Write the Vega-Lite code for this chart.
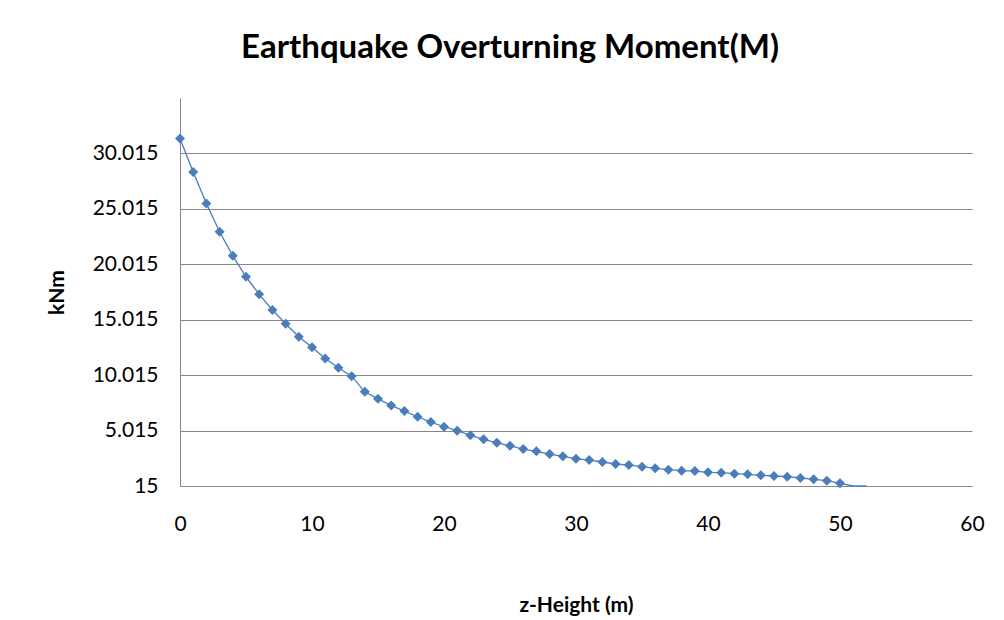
{
  "$schema": "https://vega.github.io/schema/vega-lite/v6.json",
  "width": 792,
  "height": 388,
  "autosize": {"type": "none"},
  "padding": {"left": 180, "top": 98, "right": 32, "bottom": 134},
  "background": "white",
  "config": {
    "font": "Lato",
    "view": {"stroke": null},
    "axis": {"domainColor": "#868686", "gridColor": "#868686", "ticks": false, "labelColor": "#000000", "titleColor": "#000000", "labelFlush": false}
  },
  "title": {
    "text": "Earthquake Overturning Moment(M)",
    "fontSize": 33,
    "fontWeight": "bold",
    "font": "Lato",
    "color": "#000000",
    "anchor": "middle",
    "frame": "group",
    "dx": -66,
    "offset": 33
  },
  "data": {
    "values": [
      {"z": 0, "M": 31360}, {"z": 1, "M": 28350}, {"z": 2, "M": 25500}, {"z": 3, "M": 22945},
      {"z": 4, "M": 20780}, {"z": 5, "M": 18890}, {"z": 6, "M": 17305}, {"z": 7, "M": 15890},
      {"z": 8, "M": 14655}, {"z": 9, "M": 13485}, {"z": 10, "M": 12530}, {"z": 11, "M": 11520},
      {"z": 12, "M": 10675}, {"z": 13, "M": 9925}, {"z": 14, "M": 8510}, {"z": 15, "M": 7880},
      {"z": 16, "M": 7285}, {"z": 17, "M": 6775}, {"z": 18, "M": 6260}, {"z": 19, "M": 5780},
      {"z": 20, "M": 5360}, {"z": 21, "M": 5000}, {"z": 22, "M": 4585}, {"z": 23, "M": 4225},
      {"z": 24, "M": 3915}, {"z": 25, "M": 3645}, {"z": 26, "M": 3350}, {"z": 27, "M": 3140},
      {"z": 28, "M": 2900}, {"z": 29, "M": 2690}, {"z": 30, "M": 2475}, {"z": 31, "M": 2355},
      {"z": 32, "M": 2180}, {"z": 33, "M": 2000}, {"z": 34, "M": 1905}, {"z": 35, "M": 1755},
      {"z": 36, "M": 1610}, {"z": 37, "M": 1485}, {"z": 38, "M": 1395}, {"z": 39, "M": 1365},
      {"z": 40, "M": 1250}, {"z": 41, "M": 1215}, {"z": 42, "M": 1125}, {"z": 43, "M": 1070},
      {"z": 44, "M": 980}, {"z": 45, "M": 915}, {"z": 46, "M": 855}, {"z": 47, "M": 735},
      {"z": 48, "M": 620}, {"z": 49, "M": 495}, {"z": 50, "M": 260}, {"z": 51, "M": 15},
      {"z": 52, "M": 15}
    ]
  },
  "encoding": {
    "x": {
      "field": "z", "type": "quantitative",
      "scale": {"domain": [0, 60], "nice": false, "zero": false},
      "axis": {
        "values": [0, 10, 20, 30, 40, 50, 60],
        "title": "z-Height (m)",
        "titleFontSize": 21, "titleFontWeight": "bold", "titlePadding": 60,
        "labelFontSize": 21, "labelPadding": 27, "grid": false
      }
    },
    "y": {
      "field": "M", "type": "quantitative",
      "scale": {"domain": [15, 35015], "nice": false, "zero": false},
      "axis": {
        "values": [15, 5015, 10015, 15015, 20015, 25015, 30015],
        "labelExpr": "replace(format(datum.value, ','), ',', '.')",
        "title": "kNm",
        "titleFontSize": 21, "titleFontWeight": "bold", "titlePadding": 25,
        "labelFontSize": 21, "labelPadding": 22, "grid": true
      }
    }
  },
  "layer": [
    {"mark": {"type": "line", "color": "#4a7ebb", "strokeWidth": 1.3}},
    {
      "transform": [{"filter": "datum.z <= 50"}],
      "mark": {"type": "point", "shape": "diamond", "filled": true, "size": 100, "color": "#4a7ebb", "opacity": 1}
    }
  ]
}
